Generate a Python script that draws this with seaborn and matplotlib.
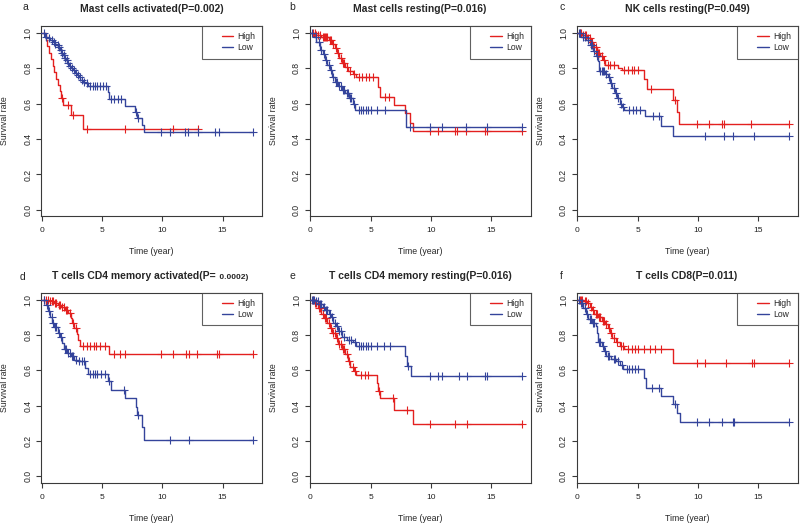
import numpy as np
import matplotlib
matplotlib.use("Agg")
import matplotlib.pyplot as plt
import matplotlib.transforms as mtransforms
from matplotlib.lines import Line2D
from matplotlib.legend_handler import HandlerLine2D
import seaborn as sns

# Kaplan-Meier curves: drop times, survival after each drop, censor times
a_high_t = [0.30, 0.45, 0.60, 0.75, 0.90, 1.00, 1.15, 1.30, 1.50, 1.60, 1.75, 2.45, 3.40]
a_high_s = [0.96, 0.925, 0.89, 0.855, 0.815, 0.78, 0.74, 0.705, 0.67, 0.63, 0.593, 0.536, 0.458]
a_high_c = [1.65, 2.2, 2.55, 3.75, 6.9, 10.85, 12.95]
a_low_t = [0.25, 0.5, 0.7, 0.9, 1.05, 1.2, 1.35, 1.5, 1.6, 1.75, 1.85, 2.0, 2.1, 2.25, 2.4,
           2.6, 2.75, 2.9, 3.05, 3.2, 3.4, 3.6, 3.85, 5.45, 5.6, 6.9, 7.7, 7.9, 8.3, 8.5]
a_low_s = [0.98, 0.97, 0.96, 0.95, 0.94, 0.93, 0.92, 0.905, 0.89, 0.875, 0.86, 0.845, 0.83, 0.815, 0.80,
           0.79, 0.775, 0.76, 0.75, 0.735, 0.725, 0.715, 0.703, 0.668, 0.625, 0.587, 0.553, 0.52, 0.478, 0.438]
a_low_c = [0.15, 0.35, 0.6, 0.8, 1.0, 1.1, 1.3, 1.45, 1.55, 1.7, 1.8, 1.95, 2.05, 2.2, 2.35, 2.5, 2.7,
           2.85, 3.0, 3.15, 3.3, 3.5, 3.75, 4.0, 4.2, 4.4, 4.6, 4.8, 5.1, 5.3, 5.7, 6.0, 6.3, 6.6,
           7.8, 8.0, 9.9, 10.6, 11.9, 12.15, 13.0, 14.4, 14.7, 17.5]

b_high_t = [0.5, 0.9, 1.5, 1.8, 2.0, 2.2, 2.4, 2.6, 2.9, 3.1, 3.5, 3.8, 5.6, 5.8, 6.9, 7.85, 8.3, 8.5]
b_high_s = [0.99, 0.975, 0.96, 0.94, 0.915, 0.89, 0.86, 0.83, 0.81, 0.785, 0.77, 0.754, 0.697, 0.64,
            0.593, 0.545, 0.49, 0.447]
b_high_c = [0.2, 0.35, 0.5, 0.65, 0.8, 1.0, 1.1, 1.2, 1.3, 1.4, 1.6, 1.7, 1.9, 2.1, 2.3, 2.5, 2.7,
            2.8, 3.0, 3.3, 3.6, 4.0, 4.3, 4.6, 4.9, 5.2, 6.2, 6.5, 9.9, 10.6, 12.0, 12.2, 12.9, 14.5,
            14.7, 17.6]
b_low_t = [0.3, 0.5, 0.8, 1.0, 1.2, 1.4, 1.6, 1.8, 2.0, 2.3, 2.6, 2.9, 3.2, 3.5, 3.7, 7.9]
b_low_s = [0.98, 0.95, 0.905, 0.88, 0.85, 0.82, 0.79, 0.75, 0.725, 0.70, 0.68, 0.66, 0.63, 0.60, 0.567, 0.47]
b_low_c = [0.15, 0.45, 0.7, 0.9, 1.1, 1.3, 1.5, 1.7, 1.9, 2.1, 2.2, 2.4, 2.5, 2.7, 2.8, 3.0, 3.1,
           3.3, 3.4, 3.6, 4.0, 4.2, 4.4, 4.6, 4.8, 5.0, 5.5, 6.2, 8.3, 9.9, 10.9, 12.9, 14.7, 17.6]

c_high_t = [0.4, 0.8, 1.1, 1.3, 1.6, 1.9, 2.1, 2.3, 3.35, 3.7, 5.55, 5.8, 7.9, 8.3, 8.45]
c_high_s = [0.99, 0.97, 0.95, 0.92, 0.887, 0.87, 0.845, 0.82, 0.80, 0.789, 0.74, 0.683, 0.623, 0.555, 0.485]
c_high_c = [0.2, 0.3, 0.5, 0.6, 0.7, 0.9, 1.0, 1.2, 1.4, 1.5, 1.7, 1.8, 2.0, 2.2, 2.5, 2.7, 3.0,
            3.9, 4.2, 4.5, 4.7, 5.0, 6.1, 8.1, 9.9, 10.9, 12.0, 12.2, 14.4, 17.6]
c_low_t = [0.3, 0.7, 1.0, 1.3, 1.5, 1.7, 1.8, 2.3, 2.5, 2.7, 2.9, 3.1, 3.3, 3.5, 3.7, 3.9, 5.6, 6.9, 7.9]
c_low_s = [0.98, 0.96, 0.93, 0.896, 0.87, 0.84, 0.787, 0.77, 0.75, 0.72, 0.69, 0.66, 0.632, 0.60,
           0.58, 0.566, 0.528, 0.472, 0.415]
c_low_c = [0.1, 0.25, 0.45, 0.6, 0.85, 1.1, 1.2, 1.4, 1.6, 1.9, 2.0, 2.1, 2.2, 2.4, 2.6, 2.8, 3.0,
           3.2, 3.4, 3.6, 3.8, 4.3, 4.6, 4.9, 5.2, 6.3, 6.8, 10.6, 12.2, 12.9, 14.7, 17.6]

d_high_t = [0.6, 1.0, 1.3, 1.6, 1.9, 2.2, 2.4, 2.5, 2.7, 2.9, 3.0, 3.2, 5.55]
d_high_s = [0.99, 0.98, 0.97, 0.958, 0.943, 0.924, 0.895, 0.867, 0.838, 0.804, 0.771, 0.739, 0.69]
d_high_c = [0.2, 0.35, 0.5, 0.7, 0.8, 0.9, 1.1, 1.2, 1.4, 1.5, 1.7, 1.8, 2.0, 2.1, 2.3, 2.6, 2.8,
            3.4, 3.7, 4.0, 4.3, 4.5, 4.8, 5.2, 6.0, 6.5, 6.9, 9.9, 10.9, 12.0, 12.2, 12.9, 14.5, 14.7, 17.5]
d_low_t = [0.3, 0.5, 0.7, 0.85, 1.0, 1.3, 1.5, 1.7, 1.8, 2.1, 2.4, 2.7, 3.0, 3.6, 3.8, 5.5, 5.7,
           6.9, 7.8, 7.9, 8.3, 8.5]
d_low_s = [0.97, 0.935, 0.90, 0.87, 0.845, 0.81, 0.79, 0.755, 0.72, 0.70, 0.68, 0.66, 0.65, 0.615,
           0.578, 0.537, 0.49, 0.444, 0.395, 0.345, 0.28, 0.208]
d_low_c = [0.15, 0.4, 0.6, 0.8, 0.9, 1.1, 1.2, 1.4, 1.6, 1.9, 2.0, 2.2, 2.3, 2.5, 2.6, 2.8, 3.1,
           3.3, 3.5, 4.0, 4.2, 4.4, 4.6, 4.9, 5.2, 5.6, 6.85, 7.95, 10.6, 12.2, 17.5]

e_high_t = [0.3, 0.6, 0.9, 1.1, 1.4, 1.6, 1.8, 2.1, 2.3, 2.6, 2.9, 3.1, 3.3, 3.6, 3.8, 5.5, 5.6,
            5.8, 6.95, 8.5]
e_high_s = [0.98, 0.95, 0.92, 0.894, 0.87, 0.84, 0.81, 0.78, 0.75, 0.72, 0.69, 0.654, 0.62, 0.595,
            0.571, 0.529, 0.48, 0.442, 0.375, 0.298]
e_high_c = [0.2, 0.4, 0.5, 0.7, 0.8, 1.0, 1.2, 1.3, 1.5, 1.7, 1.9, 2.0, 2.2, 2.4, 2.5, 2.7, 2.8,
            3.0, 3.2, 3.5, 3.7, 4.2, 4.5, 4.8, 5.7, 6.85, 8.0, 9.9, 12.0, 13.0, 17.6]
e_low_t = [0.4, 0.7, 1.0, 1.2, 1.5, 1.7, 1.9, 2.1, 2.3, 2.6, 3.0, 3.5, 3.8, 7.85, 8.0, 8.35]
e_low_s = [0.99, 0.975, 0.96, 0.94, 0.92, 0.90, 0.87, 0.85, 0.82, 0.79, 0.773, 0.76, 0.74, 0.683,
           0.625, 0.567]
e_low_c = [0.1, 0.2, 0.3, 0.5, 0.6, 0.8, 0.9, 1.1, 1.3, 1.4, 1.6, 1.8, 2.0, 2.2, 2.4, 2.5, 2.8,
           3.2, 3.4, 3.7, 4.0, 4.2, 4.4, 4.6, 4.8, 5.0, 5.5, 6.1, 6.6, 8.1, 9.9, 10.6, 10.9, 12.3,
           13.0, 14.5, 14.7, 17.6]

f_high_t = [0.5, 0.8, 1.0, 1.2, 1.4, 1.7, 2.0, 2.3, 2.5, 2.7, 2.9, 3.2, 3.5, 3.9, 7.9]
f_high_s = [0.99, 0.98, 0.96, 0.94, 0.918, 0.90, 0.88, 0.86, 0.84, 0.81, 0.78, 0.76, 0.74, 0.723, 0.64]
f_high_c = [0.2, 0.3, 0.4, 0.6, 0.7, 0.9, 1.1, 1.3, 1.5, 1.6, 1.8, 1.9, 2.1, 2.2, 2.4, 2.6, 2.8,
            3.0, 3.3, 3.6, 3.8, 4.2, 4.5, 4.8, 5.0, 5.5, 6.0, 6.4, 6.9, 9.9, 10.6, 12.3, 14.5, 14.7, 17.6]
f_low_t = [0.2, 0.5, 0.7, 0.9, 1.2, 1.5, 1.6, 1.7, 2.0, 2.2, 2.4, 2.8, 3.2, 3.5, 3.8, 5.5, 5.7,
           6.9, 7.9, 8.3, 8.5]
f_low_s = [0.98, 0.95, 0.92, 0.89, 0.87, 0.852, 0.81, 0.761, 0.74, 0.71, 0.68, 0.665, 0.65, 0.63,
           0.61, 0.555, 0.502, 0.455, 0.411, 0.36, 0.307]
f_low_c = [0.1, 0.3, 0.4, 0.6, 0.8, 1.0, 1.1, 1.3, 1.4, 1.8, 1.9, 2.1, 2.3, 2.5, 2.6, 3.0, 3.1,
           3.4, 3.7, 4.1, 4.3, 4.5, 4.8, 5.0, 6.2, 6.8, 8.1, 9.9, 10.9, 12.0, 12.9, 13.0, 17.6]

letters = ["a", "b", "c", "d", "e", "f"]
titles = ["Mast cells activated(P=0.002)", "Mast cells resting(P=0.016)",
          "NK cells resting(P=0.049)", "T cells CD4 memory activated(P= 0.0002)",
          "T cells CD4 memory resting(P=0.016)", "T cells CD8(P=0.011)"]
x_ticks = [0, 5, 10, 15]
y_ticks = [0.0, 0.2, 0.4, 0.6, 0.8, 1.0]

panels = [
    (a_high_t, a_high_s, a_high_c, a_low_t, a_low_s, a_low_c),
    (b_high_t, b_high_s, b_high_c, b_low_t, b_low_s, b_low_c),
    (c_high_t, c_high_s, c_high_c, c_low_t, c_low_s, c_low_c),
    (d_high_t, d_high_s, d_high_c, d_low_t, d_low_s, d_low_c),
    (e_high_t, e_high_s, e_high_c, e_low_t, e_low_s, e_low_c),
    (f_high_t, f_high_s, f_high_c, f_low_t, f_low_s, f_low_c),
]

RED = "#e3201f"
BLUE = "#34449b"
EDGE = "#3a3a3a"

sns.set_theme(style="ticks")
plt.rcParams['font.family'] = ['Liberation Sans', 'DejaVu Sans']
plt.rcParams['axes.linewidth'] = 0.8
plt.rcParams['xtick.major.width'] = 0.8
plt.rcParams['ytick.major.width'] = 0.8
plt.rcParams['xtick.major.size'] = 3.6
plt.rcParams['ytick.major.size'] = 3.6


class ShiftedLine(HandlerLine2D):
    # R style legend: short line with empty space before it
    def create_artists(self, legend, orig_handle, xdescent, ydescent, width, height, fontsize, trans):
        shift = width * 0.55
        return super().create_artists(legend, orig_handle, xdescent - shift, ydescent,
                                      width - shift, height, fontsize, trans)


def km_steps(t, s, cens):
    end = max(max(cens), t[-1])
    times = np.array([0.0] + list(t) + [end])
    surv = np.array([1.0] + list(s) + [s[-1]])
    idx = np.searchsorted(times, cens, side="right") - 1
    return times, surv, surv[idx]


W, H = 800, 527
fig = plt.figure(figsize=(W / 100, H / 100), dpi=100)

col_left = [41, 309.5, 576.5]
row_top = [26, 292.5]
ax_w, ax_h = 221, 190

for i, data in enumerate(panels):
    r, c = divmod(i, 3)
    left = col_left[c]
    top = row_top[r]
    ax = fig.add_axes([left / W, 1 - (top + ax_h) / H, ax_w / W, ax_h / H])

    for (t, s, cens, color, lab) in [(data[0], data[1], data[2], RED, "High"),
                                     (data[3], data[4], data[5], BLUE, "Low")]:
        times, surv, cy = km_steps(t, s, cens)
        sns.lineplot(x=times, y=surv, ax=ax, color=color, drawstyle="steps-post",
                     estimator=None, sort=False, lw=1.0, label=lab)
        sns.scatterplot(x=cens, y=cy, ax=ax, marker="+", s=26, color=color,
                        linewidth=0.8, legend=False, zorder=3)

    ax.set_xlim(-0.08, 18.28)
    ax.set_ylim(-0.035, 1.04)
    ax.set_xticks(x_ticks)
    ax.set_yticks(y_ticks)
    ax.set_xticklabels([str(v) for v in x_ticks], fontsize=6)
    ax.set_yticklabels([f"{v:.1f}" for v in y_ticks], fontsize=6.2, rotation=90, va="center")
    ax.tick_params(axis="x", pad=4.5, colors=EDGE, labelcolor="#222222")
    ax.tick_params(axis="y", pad=2.5, colors=EDGE, labelcolor="#222222")
    for sp in ax.spines.values():
        sp.set_color(EDGE)
    ax.set_xlabel("Time (year)", fontsize=6.3)
    ax.set_ylabel("Survival rate", fontsize=6.3)
    ax.xaxis.set_label_coords(0.5, -0.165)
    ax.yaxis.set_label_coords(-0.143, 0.5)

    leg = ax.legend(loc="upper right", bbox_to_anchor=(1.0, 1.0), fontsize=6.2,
                    frameon=True, fancybox=False, handlelength=2.9, borderpad=0.75,
                    labelspacing=0.2, handletextpad=0.5, borderaxespad=0,
                    handler_map={Line2D: ShiftedLine()})
    leg.get_frame().set_edgecolor(EDGE)
    leg.get_frame().set_linewidth(0.8)

    trans = mtransforms.offset_copy(ax.transAxes, fig=fig, y=10, units="points")
    if i == 3:
        ax.text(0.79, 1.0, "T cells CD4 memory activated(P=", transform=trans,
                ha="right", va="baseline", fontsize=7.5, fontweight="bold")
        ax.text(0.795, 1.0, " 0.0002)", transform=trans,
                ha="left", va="baseline", fontsize=6, fontweight="bold")
    else:
        ax.text(0.5, 1.0, titles[i], transform=trans, ha="center", va="baseline",
                fontsize=7.5, fontweight="bold")

letter_pos = [(25, 7), (292, 7), (562, 7), (22, 277), (292, 276), (561, 276)]
for lt, (px, py) in zip(letters, letter_pos):
    fig.text(px / W, 1 - py / H, lt, fontsize=7.5, ha="center", va="center")

fig.savefig("out.png", dpi=100)
